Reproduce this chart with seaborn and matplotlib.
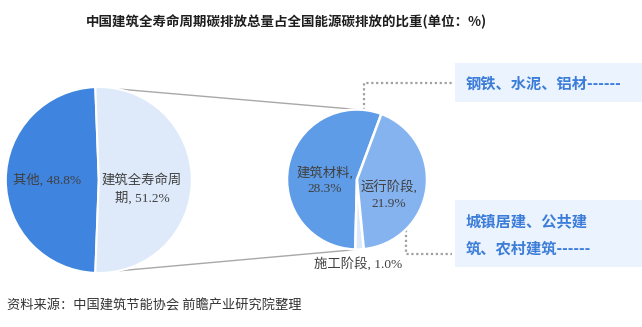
import numpy as np
import matplotlib
matplotlib.use("Agg")
import matplotlib.pyplot as plt
from matplotlib.patches import Rectangle
import seaborn as sns

# ---- data ----
outer_labels = ["其他", "建筑全寿命周期"]
outer_values = [48.8, 51.2]
inner_labels = ["建筑材料", "施工阶段", "运行阶段"]
inner_values = [28.3, 1.0, 21.9]
title = "中国建筑全寿命周期碳排放总量占全国能源碳排放的比重(单位：%)"
source = "资料来源：中国建筑节能协会 前瞻产业研究院整理"
note_top = "钢铁、水泥、铝材------"
note_bottom = ["城镇居建、公共建", "筑、农村建筑------"]

sns.set_theme(style="white")
plt.rcParams["font.family"] = ["Noto Sans CJK SC", "DejaVu Sans"]
LABEL_FONT = ["Liberation Serif", "Noto Sans CJK SC"]

W, H = 642, 327
fig = plt.figure(figsize=(W / 100, H / 100), dpi=100)
ax = fig.add_axes([0, 0, 1, 1])


def Y(y):
    """pixel row (top-down) -> axis y (bottom-up)"""
    return H - y


outer_colors = ["#3F84DE", "#DEEAFA"]
inner_colors = ["#5E9CE7", "#DCE9FB", "#84B3F0"]
label_color = "#404040"

# left pie: "其他" centred on the left side
oc = (98.8, Y(180))
orad = 93
o_share = outer_values[0] / sum(outer_values) * 360
o_start = 180 - o_share / 2
ax.pie(outer_values, colors=outer_colors, startangle=o_start, counterclock=True,
       center=oc, radius=orad,
       wedgeprops=dict(edgecolor="white", linewidth=1.5))

# right pie: breakdown of the building life cycle share
ic = (357, Y(179.5))
irad = 70
i_start = 69.6
ax.pie(inner_values, colors=inner_colors, startangle=i_start, counterclock=True,
       center=ic, radius=irad,
       wedgeprops=dict(edgecolor="white", linewidth=1.8))

# connector lines between the two pies
a1 = np.deg2rad(o_start)
a2 = np.deg2rad(o_start + o_share)
p_top = (oc[0] + orad * np.cos(a1), oc[1] + orad * np.sin(a1))
p_bot = (oc[0] + orad * np.cos(a2), oc[1] + orad * np.sin(a2))
ax.plot([p_top[0], ic[0]], [p_top[1], ic[1] + irad], color="#A8A8A8", lw=1.0, zorder=0)
ax.plot([p_bot[0], ic[0]], [p_bot[1], ic[1] - irad], color="#A8A8A8", lw=1.0, zorder=0)

# dotted leader lines to the note boxes
dot = dict(color="#A0A0A0", lw=1.6, linestyle=(0, (1, 1.2)), zorder=0)
ax.plot([364, 364, 452], [Y(110), Y(82.7), Y(82.7)], **dot)
ax.plot([405.7, 405.7, 452], [Y(229.5), Y(254.3), Y(254.3)], **dot)

# note boxes
box_fc = "#EBF3FE"
note_color = "#3C7DD9"
ax.add_patch(Rectangle((455, Y(101.7)), W - 455, 101.7 - 63.3, facecolor=box_fc,
                       edgecolor="none", zorder=1))
ax.add_patch(Rectangle((455, Y(267)), W - 455, 267 - 200, facecolor=box_fc,
                       edgecolor="none", zorder=1))
ax.text(466, Y(83.3), note_top, fontsize=11, fontweight="bold", color=note_color,
        ha="left", va="center", zorder=2)
ax.text(466, Y(221.5), note_bottom[0], fontsize=11, fontweight="bold", color=note_color,
        ha="left", va="center", zorder=2)
ax.text(466, Y(248.5), note_bottom[1], fontsize=11, fontweight="bold", color=note_color,
        ha="left", va="center", zorder=2)

# slice labels
lab = dict(fontsize=9.6, color=label_color, family=LABEL_FONT, zorder=3)
ax.text(47, Y(180), f"{outer_labels[0]}, {outer_values[0]}%", ha="center", va="center", **lab)
ax.text(142, Y(180), outer_labels[1][:6], ha="center", va="center", **lab)
ax.text(142, Y(198.5), f"{outer_labels[1][6:]}, {outer_values[1]}%", ha="center", va="center", **lab)
ax.text(325, Y(172.5), f"{inner_labels[0]},", ha="center", va="center", **lab)
ax.text(325, Y(188.5), f"{inner_values[0]}%", ha="center", va="center", **lab)
ax.text(389, Y(187.5), f"{inner_labels[2]},", ha="center", va="center", **lab)
ax.text(389, Y(204), f"{inner_values[2]}%", ha="center", va="center", **lab)
ax.text(358.5, Y(263.5), f"{inner_labels[1]}, {inner_values[1]}%", ha="center", va="center", **lab)

# title and source
ax.text(86, Y(22), title, fontsize=9.7, fontweight="bold", color="#1E1E1E",
        ha="left", va="center")
ax.text(7, Y(305.5), source, fontsize=9.5, color="#333333", ha="left", va="center")

ax.set_xlim(0, W)
ax.set_ylim(0, H)
ax.set_aspect("equal", adjustable="box")
ax.axis("off")

fig.savefig("out.png", dpi=100, facecolor="white")
